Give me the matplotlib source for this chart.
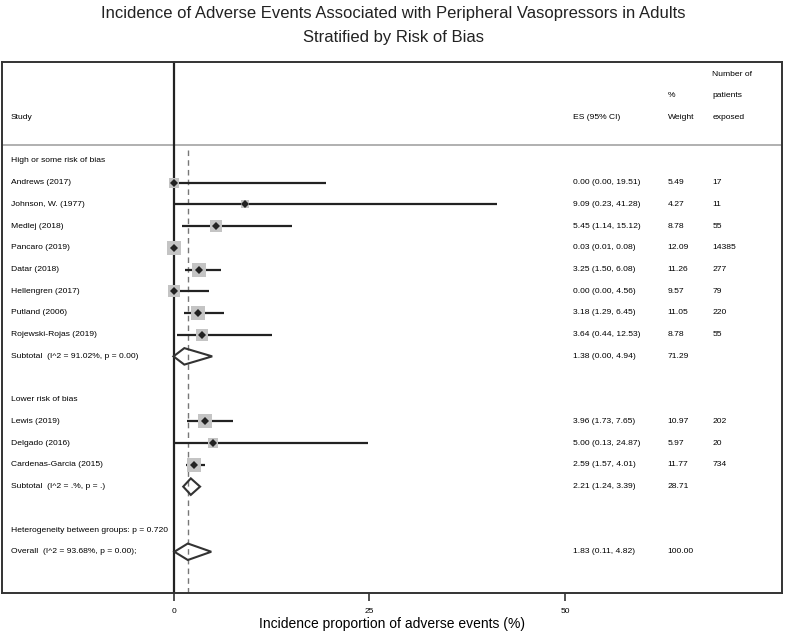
import numpy as np
import matplotlib.pyplot as plt
from matplotlib.patches import Polygon

plt.rcParams['font.family'] = ['Liberation Sans', 'DejaVu Sans']

# study rows
studies = ["Andrews (2017)", "Johnson, W. (1977)", "Medlej (2018)", "Pancaro (2019)",
           "Datar (2018)", "Hellengren (2017)", "Putland (2006)", "Rojewski-Rojas (2019)",
           "Lewis (2019)", "Delgado (2016)", "Cardenas-Garcia (2015)"]
es = [0.00, 9.09, 5.45, 0.03, 3.25, 0.00, 3.18, 3.64, 3.96, 5.00, 2.59]
lo = [0.00, 0.23, 1.14, 0.01, 1.50, 0.00, 1.29, 0.44, 1.73, 0.13, 1.57]
hi = [19.51, 41.28, 15.12, 0.08, 6.08, 4.56, 6.45, 12.53, 7.65, 24.87, 4.01]
weight = [5.49, 4.27, 8.78, 12.09, 11.26, 9.57, 11.05, 8.78, 10.97, 5.97, 11.77]
n_exposed = [17, 11, 55, 14385, 277, 79, 220, 55, 202, 20, 734]
study_rows = [1, 2, 3, 4, 5, 6, 7, 8, 12, 13, 14]

# pooled rows
pooled_labels = ["Subtotal  (I^2 = 91.02%, p = 0.00)", "Subtotal  (I^2 = .%, p = .)",
                 "Overall  (I^2 = 93.68%, p = 0.00);"]
pooled_es = [1.38, 2.21, 1.83]
pooled_lo = [0.00, 1.24, 0.11]
pooled_hi = [4.94, 3.39, 4.82]
pooled_w = [71.29, 28.71, 100.00]
pooled_rows = [9, 15, 18]

group_labels = ["High or some risk of bias", "Lower risk of bias",
                "Heterogeneity between groups: p = 0.720"]
group_rows = [0, 11, 17]

fig = plt.figure(figsize=(7.87, 6.32), dpi=100)
ax = fig.add_axes([2 / 787, 1 - 593 / 632, 780 / 787, 531 / 632])

x0, x1 = -21.9, 77.7
ax.set_xlim(x0, x1)
ax.set_ylim(19.9, -4.56)

col_study, col_es, col_w, col_n = -20.8, 51.0, 63.1, 68.8
fs = 6.1

# header
ax.text(col_study, -2, "Study", fontsize=fs, va='center')
ax.text(col_es, -2, "ES (95% CI)", fontsize=fs, va='center')
ax.text(col_w, -3, "%", fontsize=fs, va='center')
ax.text(col_w, -2, "Weight", fontsize=fs, va='center')
ax.text(col_n, -4, "Number of", fontsize=fs, va='center')
ax.text(col_n, -3, "patients", fontsize=fs, va='center')
ax.text(col_n, -2, "exposed", fontsize=fs, va='center')
ax.axhline(-0.74, color='#b0b0b0', lw=1.4)

# null line and overall dashed line
ax.axvline(0, color='#222222', lw=1.6)
ax.plot([pooled_es[2], pooled_es[2]], [-0.5, 19.9], color='#777777', lw=1, ls=(0, (4, 3)))

for lab, r in zip(group_labels, group_rows):
    ax.text(col_study, r, lab, fontsize=fs, va='center')

for i in range(len(studies)):
    r = study_rows[i]
    ax.plot([lo[i], hi[i]], [r, r], color='#222222', lw=1.6, solid_capstyle='butt')
    ax.plot(es[i], r, marker='s', ms=2.95 * np.sqrt(weight[i]), color='#c4c4c4', mew=0, zorder=2)
    ax.plot(es[i], r, marker='D', ms=4, color='#222222', mew=0, zorder=4)
    ax.text(col_study, r, studies[i], fontsize=fs, va='center')
    ax.text(col_es, r, f"{es[i]:.2f} ({lo[i]:.2f}, {hi[i]:.2f})", fontsize=fs, va='center')
    ax.text(col_w, r, f"{weight[i]:.2f}", fontsize=fs, va='center')
    ax.text(col_n, r, str(n_exposed[i]), fontsize=fs, va='center')

for i in range(len(pooled_labels)):
    r = pooled_rows[i]
    dia = Polygon([[pooled_lo[i], r], [pooled_es[i], r - 0.38], [pooled_hi[i], r], [pooled_es[i], r + 0.38]],
                  closed=True, fill=False, edgecolor='#333333', lw=1.5, zorder=5)
    ax.add_patch(dia)
    ax.text(col_study, r, pooled_labels[i], fontsize=fs, va='center')
    ax.text(col_es, r, f"{pooled_es[i]:.2f} ({pooled_lo[i]:.2f}, {pooled_hi[i]:.2f})", fontsize=fs, va='center')
    ax.text(col_w, r, f"{pooled_w[i]:.2f}", fontsize=fs, va='center')

for s in ax.spines.values():
    s.set_color('#333333')
    s.set_linewidth(1.4)

ax.set_xticks([0, 25, 50])
ax.set_yticks([])
ax.tick_params(axis='x', length=6, width=1.2, color='#333333', labelsize=6, pad=5)
ax.set_xlabel("Incidence proportion of adverse events (%)", fontsize=10, labelpad=1)

fig.suptitle("Incidence of Adverse Events Associated with Peripheral Vasopressors in Adults\n"
             "Stratified by Risk of Bias", fontsize=12, y=0.99, linespacing=1.75, color='#222222')

fig.savefig("out.png", dpi=100)
